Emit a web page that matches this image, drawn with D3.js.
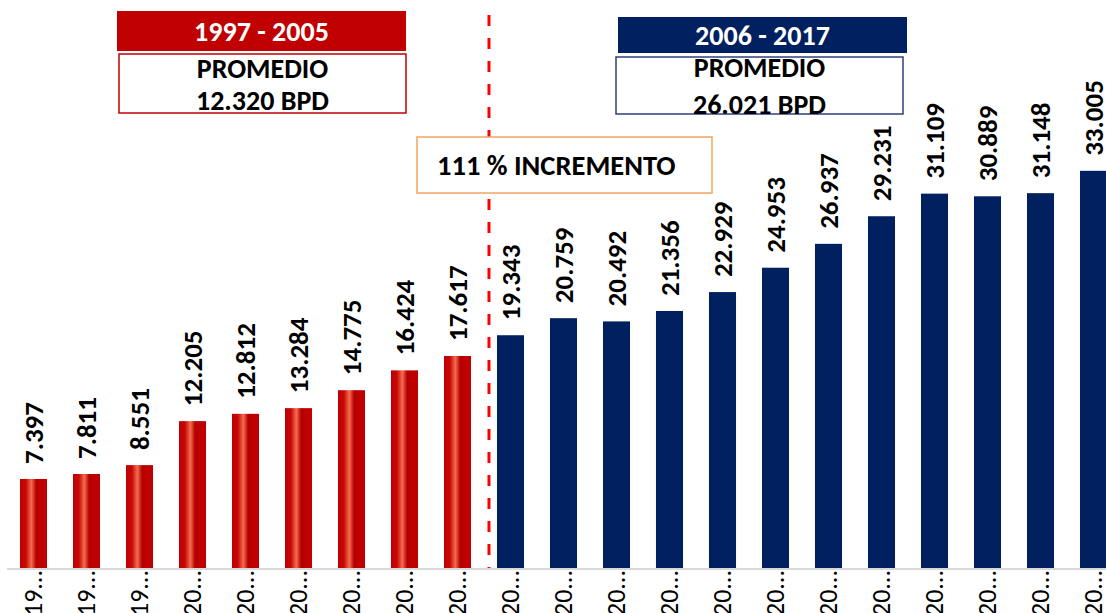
<!DOCTYPE html>
<html>
<head>
<meta charset="utf-8">
<script src="https://cdn.jsdelivr.net/npm/d3@7"></script>
<style>
html,body{margin:0;padding:0;background:#fff;}
svg{display:block;}
text{font-family:Carlito,Lato,"Open Sans",sans-serif;}
</style>
</head>
<body>
<svg id="chart" width="1106" height="613"></svg>
<script>
const years = ["1997","1998","1999","2000","2001","2002","2003","2004","2005","2006","2007","2008","2009","2010","2011","2012","2013","2014","2015","2016","2017"];
const tickLabels = ["19...","19...","19...","20...","20...","20...","20...","20...","20...","20...","20...","20...","20...","20...","20...","20...","20...","20...","20...","20...","20..."];
const values = [7397,7811,8551,12205,12812,13284,14775,16424,17617,19343,20759,20492,21356,22929,24953,26937,29231,31109,30889,31148,33005];
const periods = ["1997 - 2005","2006 - 2017"];
const averages = ["12.320 BPD","26.021 BPD"];
const increaseText = "111 % INCREMENTO";
const splitYear = "2006";

const svg = d3.select("#chart");
const W = 1106, H = 613;
const baseY = 568;

const x = d3.scaleBand().domain(years).range([7, 7 + 53 * years.length]).paddingInner(0.49).paddingOuter(0.245);
const y = d3.scaleLinear().domain([0, 47200]).range([baseY, 0]);
const fmt = d3.formatLocale({decimal: ",", thousands: ".", grouping: [3], currency: ["", ""]}).format(",");

const defs = svg.append("defs");
const grad = defs.append("linearGradient").attr("id", "redGrad").attr("x1", "0%").attr("x2", "100%").attr("y1", "0%").attr("y2", "0%");
[[0,"#C00000"],[0.22,"#C60808"],[0.33,"#E0402C"],[0.42,"#F36C52"],[0.5,"#DE3A2A"],[0.6,"#B00000"],[0.75,"#BE0000"],[1,"#C00000"]]
  .forEach(([o,c]) => grad.append("stop").attr("offset", o).attr("stop-color", c));

const isRed = d => +d.year < +splitYear;
const data = years.map((yr, i) => ({year: yr, value: values[i], tick: tickLabels[i]}));

// axis line
svg.append("line").attr("x1", 7).attr("x2", W).attr("y1", baseY + 1).attr("y2", baseY + 1)
  .attr("stroke", "#D9D9D9").attr("stroke-width", 2);

// bars
svg.selectAll("rect.bar").data(data).join("rect").attr("class", "bar")
  .attr("x", d => x(d.year)).attr("width", x.bandwidth())
  .attr("y", d => y(d.value)).attr("height", d => baseY - y(d.value))
  .attr("fill", d => isRed(d) ? "url(#redGrad)" : "#002060");

// value labels
svg.selectAll("text.val").data(data).join("text").attr("class", "val")
  .attr("transform", d => `translate(${x(d.year) + x.bandwidth() / 2 + 1},${y(d.value) - 15}) rotate(-90)`)
  .attr("dy", "0.33em")
  .attr("font-size", 27).attr("font-weight", "bold").attr("fill", "#000")
  .text(d => fmt(d.value));

// tick labels
svg.selectAll("text.tick").data(data).join("text").attr("class", "tick")
  .attr("transform", d => `translate(${x(d.year) + x.bandwidth() / 2},${baseY + 2}) rotate(-90)`)
  .attr("dy", "0.33em").attr("text-anchor", "end")
  .attr("font-size", 26).attr("fill", "#000")
  .text(d => d.tick);

// dashed divider
const divX = x(splitYear) - 8;
svg.append("line").attr("x1", divX).attr("x2", divX).attr("y1", 15).attr("y2", baseY)
  .attr("stroke", "#FF0000").attr("stroke-width", 3).attr("stroke-dasharray", "11,12");

// period boxes
const boxes = [
  {hx: 117, hy: 11, hw: 289, hh: 40, fill: "#C00000", bx: 119, by: 54, bw: 287, bh: 59, stroke: "#C00000", t0: 41, t1: 78, t2: 110},
  {hx: 618, hy: 17, hw: 289, hh: 36, fill: "#002060", bx: 616, by: 57, bw: 287, bh: 57, stroke: "#2F3F7F", t0: 45, t1: 77, t2: 114}
];
boxes.forEach((b, i) => {
  svg.append("rect").attr("x", b.hx).attr("y", b.hy).attr("width", b.hw).attr("height", b.hh).attr("fill", b.fill);
  svg.append("text").attr("x", b.hx + b.hw / 2).attr("y", b.t0)
    .attr("text-anchor", "middle").attr("font-size", 28).attr("font-weight", "bold").attr("fill", "#fff").text(periods[i]);
  svg.append("rect").attr("x", b.bx).attr("y", b.by).attr("width", b.bw).attr("height", b.bh)
    .attr("fill", "#fff").attr("stroke", b.stroke).attr("stroke-width", 1.5);
  svg.append("text").attr("x", b.bx + b.bw / 2).attr("y", b.t1)
    .attr("text-anchor", "middle").attr("font-size", 28).attr("font-weight", "bold").attr("fill", "#000").text("PROMEDIO");
  svg.append("text").attr("x", b.bx + b.bw / 2).attr("y", b.t2)
    .attr("text-anchor", "middle").attr("font-size", 28).attr("font-weight", "bold").attr("fill", "#000").text(averages[i]);
});

// increase box
svg.append("rect").attr("x", 417).attr("y", 137).attr("width", 295).attr("height", 56)
  .attr("fill", "#fff").attr("stroke", "#F4A460").attr("stroke-width", 1.5);
svg.append("text").attr("x", 437).attr("y", 175).attr("font-size", 28.5).attr("font-weight", "bold").attr("fill", "#000").text(increaseText);
</script>
</body>
</html>
